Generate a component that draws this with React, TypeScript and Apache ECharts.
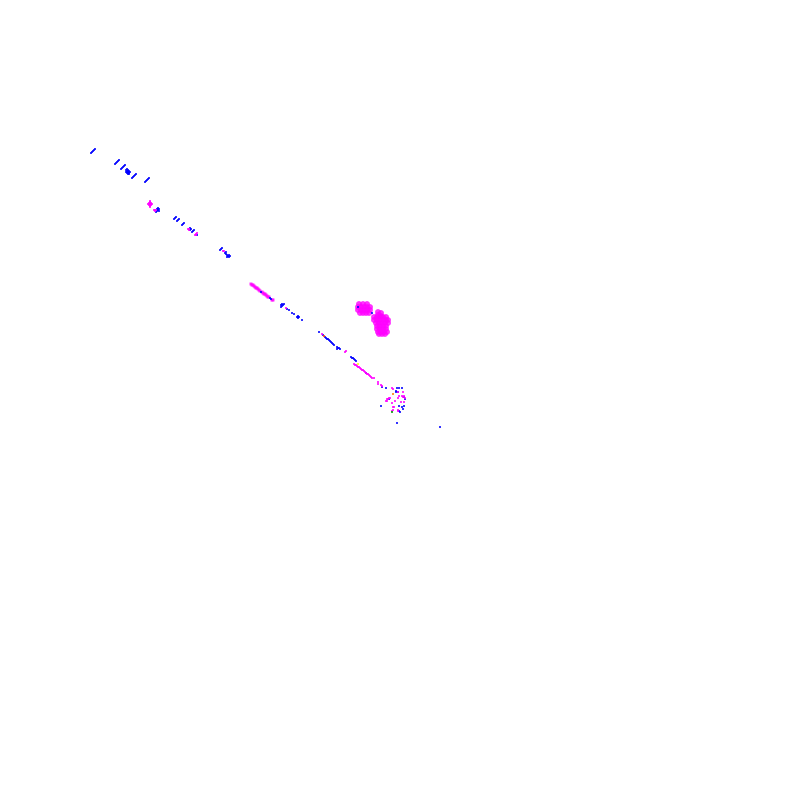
import React, { useEffect, useRef } from 'react';
import * as echarts from 'echarts';

// point positions (x right, y down)
const bluePoints: number[][] = [
  [91, 153], [92, 152], [93, 151], [94, 150], [95, 149],
  [115, 164], [116, 163], [117, 162], [118, 161], [119, 160],
  [121, 169], [122, 168], [123, 167], [124, 166], [125, 165],
  [126, 170], [127, 169], [128, 170], [127, 171], [128, 171], [129, 171], [126, 172],
  [127, 172], [128, 172], [129, 172], [130, 172], [127, 173], [128, 173], [129, 173],
  [128, 174], [129, 174],
  [132, 178], [133, 177], [134, 176], [135, 175], [136, 174],
  [145, 182], [146, 181], [147, 180], [148, 179], [149, 178],
  [157, 209], [158, 208], [159, 209], [158, 210], [157, 211], [156, 212], [159, 211],
  [174, 219], [175, 218], [176, 217],
  [177, 221], [178, 220], [179, 219],
  [182, 225], [183, 224], [184, 223],
  [190, 228], [191, 229], [190, 230],
  [192, 232], [193, 231], [194, 230],
  [197, 235],
  [220, 250], [221, 249], [222, 248],
  [225, 253], [226, 252], [226, 254], [227, 255], [228, 256], [229, 257], [230, 256],
  [227, 257], [229, 255],
  [261, 292], [270, 298], [271, 299],
  [281, 305], [282, 306], [283, 305], [282, 304], [281, 307], [284, 304],
  [287, 309], [289, 310], [292, 313], [294, 314],
  [298, 317], [297, 317], [299, 317], [298, 316], [298, 318], [302, 320],
  [319, 332], [323, 335], [325, 337], [326, 338], [327, 339], [328, 339], [329, 340],
  [330, 341], [331, 342], [332, 343], [333, 344], [334, 345],
  [337, 347], [338, 348], [339, 348], [340, 349], [337, 349],
  [351, 357], [352, 358], [353, 358], [354, 359], [355, 360], [356, 361], [366, 373],
  [382, 387], [386, 388], [397, 388], [396, 391], [399, 388], [402, 388],
  [396, 392], [398, 392], [404, 397], [405, 399],
  [389, 399], [381, 406], [399, 406], [402, 407], [403, 409], [404, 406],
  [399, 411], [400, 412], [397, 423], [440, 427]
];

const magentaPoints: number[][] = [
  [154, 210], [155, 211], [155, 210], [156, 210],
  [188, 229], [189, 230], [189, 229],
  [195, 235], [196, 234], [197, 233], [196, 235],
  [223, 251], [224, 251],
  [286, 308], [322, 334], [345, 352], [346, 351],
  [378, 384], [381, 385], [382, 386], [392, 388], [393, 389], [398, 392], [403, 392],
  [399, 396], [402, 396], [403, 397], [404, 396], [405, 398],
  [387, 399], [388, 399], [389, 398], [390, 398], [386, 401], [387, 401],
  [398, 398], [401, 402], [404, 402], [395, 401], [392, 403],
  [394, 407], [393, 407], [393, 410], [392, 411], [398, 410], [398, 411]
];

const magentaCross: number[][] = [
  [150, 201], [150, 202], [149, 203], [150, 203], [151, 203], [148, 204], [149, 204],
  [150, 204], [151, 204], [152, 204], [149, 205], [150, 205], [151, 205], [150, 206], [150, 207]
];

const magentaStreak: number[][] = [
  [251, 284], [252, 285], [253, 285], [254, 286], [255, 287], [256, 288], [257, 288],
  [258, 289], [259, 290], [260, 291], [262, 292], [263, 293], [264, 294], [265, 294],
  [266, 295], [267, 296], [268, 297], [269, 297], [272, 300], [273, 300]
];

const magentaTrail: number[][] = [
  [354, 364], [355, 365], [356, 365], [357, 366], [358, 367], [359, 367], [360, 368],
  [361, 369], [362, 370], [363, 370], [364, 371], [365, 372], [366, 373], [367, 374],
  [368, 374], [369, 375], [370, 376], [371, 377], [372, 378], [374, 378], [378, 382]
];

const magentaBlobs: number[][] = [
  [359, 304], [363, 304], [367, 304],
  [358, 307], [361, 307], [364, 307], [367, 307], [370, 307],
  [358, 310], [361, 310], [364, 310], [367, 310], [370, 310],
  [360, 313], [363, 313], [366, 313], [369, 313],
  [378, 312], [381, 313], [378, 315], [381, 316],
  [374, 317], [377, 317], [380, 317], [383, 317], [386, 317],
  [374, 320], [377, 320], [380, 320], [383, 320], [386, 320], [388, 320],
  [376, 323], [379, 323], [382, 323], [385, 323], [388, 323],
  [377, 326], [380, 326], [383, 326], [386, 326],
  [377, 329], [380, 329], [383, 329], [386, 329],
  [378, 332], [381, 332], [384, 332], [387, 332],
  [379, 334], [382, 334], [385, 334]
];

const blobBlue: number[][] = [[358, 307], [372, 313]];

const accentPoints: number[][] = [[324, 336], [358, 364], [393, 394], [392, 412]];
const accentColors: string[] = ['#ff4000', '#ffff00', '#ff8000', '#00a000'];

const App: React.FC = () => {
  const chartRef = useRef<HTMLDivElement>(null);

  useEffect(() => {
    if (!chartRef.current) return;
    const chart = echarts.init(chartRef.current, null, { renderer: 'svg' });

    chart.setOption({
      animation: false,
      backgroundColor: '#ffffff',
      grid: { left: 0, right: 0, top: 0, bottom: 0 },
      xAxis: { type: 'value', min: 0, max: 800, show: false },
      yAxis: { type: 'value', min: 0, max: 800, inverse: true, show: false },
      series: [
        {
          name: 'magenta blobs',
          type: 'scatter',
          symbol: 'circle',
          symbolSize: 6,
          itemStyle: { color: '#ff00ff' },
          data: magentaBlobs
        },
        {
          name: 'magenta streak',
          type: 'scatter',
          symbol: 'rect',
          symbolSize: 3,
          itemStyle: { color: '#ff00ff' },
          data: magentaStreak
        },
        {
          name: 'blue',
          type: 'scatter',
          symbol: 'rect',
          symbolSize: 2,
          itemStyle: { color: '#0000ff' },
          data: bluePoints.concat(blobBlue)
        },
        {
          name: 'magenta',
          type: 'scatter',
          symbol: 'rect',
          symbolSize: 2,
          itemStyle: { color: '#ff00ff' },
          data: magentaPoints.concat(magentaTrail, magentaCross)
        },
        {
          name: 'accent',
          type: 'scatter',
          symbol: 'rect',
          symbolSize: 2,
          data: accentPoints.map((p, i) => ({ value: p, itemStyle: { color: accentColors[i] } }))
        }
      ]
    });

    return () => {
      chart.dispose();
    };
  }, []);

  return (
    <div
      ref={chartRef}
      style={{ position: 'absolute', left: 0, top: 0, width: 800, height: 800 }}
    />
  );
};

export default App;
